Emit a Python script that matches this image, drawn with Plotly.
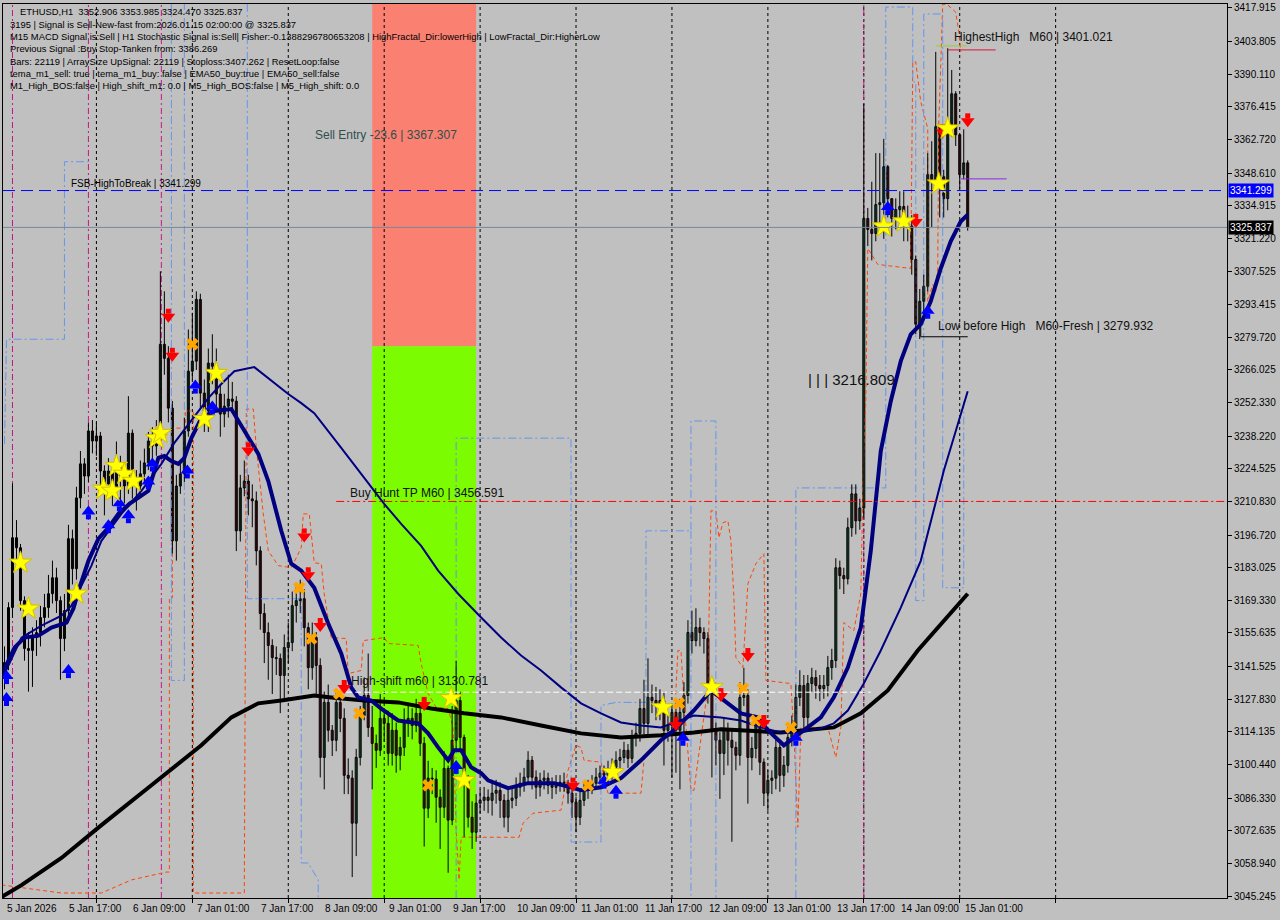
import plotly.graph_objects as go

# ---------------- candle data (H1 bars, index 0 = 5 Jan 2026 00:00) ----------------
closes = [
    3139.0, 3143.2, 3166.3, 3195.6, 3191.4, 3169.2, 3149.1, 3148.3, 3153.7, 3155.8,
    3162.1, 3166.3, 3172.1, 3178.8, 3169.2, 3153.3, 3165.0, 3195.2, 3182.6, 3212.3,
    3226.6, 3221.5, 3240.4, 3236.2, 3238.3, 3223.6, 3218.2, 3223.6, 3215.3, 3224.9,
    3221.5, 3217.3, 3239.5, 3219.4, 3217.3, 3222.4, 3227.0, 3236.2, 3234.1, 3239.1,
    3276.8, 3270.9, 3250.0, 3194.3, 3217.3, 3222.4, 3240.4, 3265.5, 3269.7, 3295.6,
    3256.3, 3248.8, 3268.9, 3267.6, 3255.9, 3247.5, 3250.8, 3253.8, 3252.9, 3198.5,
    3216.5, 3219.4, 3211.9, 3211.1, 3190.1, 3163.8, 3155.8, 3150.4, 3145.3, 3144.9,
    3137.8, 3149.5, 3151.6, 3167.1, 3169.2, 3170.0, 3157.9, 3141.1, 3153.7, 3142.0,
    3103.4, 3126.5, 3114.8, 3110.6, 3126.5, 3119.8, 3095.9, 3094.7, 3075.8, 3103.4,
    3121.0, 3129.4, 3116.0, 3109.3, 3106.4, 3119.8, 3117.7, 3105.1, 3114.8, 3104.3,
    3107.6, 3118.1, 3119.8, 3116.8, 3121.9, 3109.3, 3082.1, 3094.7, 3094.3, 3086.7,
    3082.5, 3098.8, 3077.1, 3110.6, 3127.3, 3111.8, 3093.8, 3078.3, 3072.0, 3084.2,
    3085.4, 3086.7, 3085.4, 3088.4, 3089.6, 3085.4, 3078.3, 3085.4, 3086.3, 3090.9,
    3092.6, 3095.1, 3102.2, 3095.1, 3090.9, 3093.8, 3094.7, 3091.7, 3090.9, 3092.6,
    3093.0, 3092.6, 3088.4, 3084.6, 3078.3, 3085.4, 3089.6, 3090.9, 3092.6, 3095.1,
    3096.8, 3095.9, 3098.0, 3099.3, 3102.2, 3103.4, 3106.4, 3103.0, 3111.8, 3113.5,
    3123.9, 3117.7, 3128.6, 3127.3, 3125.2, 3127.3, 3114.8, 3116.8, 3122.3, 3114.8,
    3122.3, 3129.4, 3155.8, 3152.4, 3157.9, 3155.8, 3153.3, 3132.8, 3114.8, 3110.6,
    3105.1, 3114.8, 3110.6, 3107.6, 3104.3, 3128.6, 3129.4, 3103.4, 3107.2, 3117.7,
    3101.4, 3088.4, 3093.8, 3094.7, 3107.6, 3095.9, 3100.1, 3111.8, 3116.0, 3128.6,
    3133.6, 3120.2, 3134.4, 3136.9, 3133.6, 3132.3, 3133.6, 3141.1, 3144.1, 3183.0,
    3179.7, 3178.4, 3199.8, 3214.0, 3202.7, 3208.1, 3329.6, 3325.0, 3323.3, 3335.4,
    3336.2, 3351.3, 3337.9, 3329.6, 3333.3, 3334.6, 3327.5, 3326.4, 3312.4, 3285.2,
    3294.8, 3301.1, 3348.0, 3345.1, 3368.1, 3347.1, 3337.9, 3368.1, 3381.9, 3364.7,
    3348.0, 3352.906, 3325.837,
]
opens = [
    3136.0, 3139.0, 3143.2, 3166.3, 3195.6, 3191.4, 3169.2, 3149.1, 3148.3, 3153.7,
    3155.8, 3162.1, 3166.3, 3172.1, 3178.8, 3169.2, 3153.3, 3165.0, 3195.2, 3182.6,
    3212.3, 3226.6, 3221.5, 3240.4, 3236.2, 3238.3, 3223.6, 3218.2, 3223.6, 3215.3,
    3224.9, 3221.5, 3217.3, 3239.5, 3219.4, 3217.3, 3222.4, 3227.0, 3236.2, 3234.1,
    3239.1, 3276.8, 3270.9, 3250.0, 3194.3, 3217.3, 3222.4, 3240.4, 3265.5, 3269.7,
    3295.6, 3256.3, 3248.8, 3268.9, 3267.6, 3255.9, 3247.5, 3250.8, 3253.8, 3252.9,
    3198.5, 3216.5, 3219.4, 3211.9, 3211.1, 3190.1, 3163.8, 3155.8, 3150.4, 3145.3,
    3144.9, 3137.8, 3149.5, 3151.6, 3167.1, 3169.2, 3170.0, 3157.9, 3141.1, 3153.7,
    3142.0, 3103.4, 3126.5, 3114.8, 3110.6, 3126.5, 3119.8, 3095.9, 3094.7, 3075.8,
    3103.4, 3121.0, 3129.4, 3116.0, 3109.3, 3106.4, 3119.8, 3117.7, 3105.1, 3114.8,
    3104.3, 3107.6, 3118.1, 3119.8, 3116.8, 3121.9, 3109.3, 3082.1, 3094.7, 3094.3,
    3086.7, 3082.5, 3098.8, 3077.1, 3110.6, 3127.3, 3111.8, 3093.8, 3078.3, 3072.0,
    3084.2, 3085.4, 3086.7, 3085.4, 3088.4, 3089.6, 3085.4, 3078.3, 3085.4, 3086.3,
    3090.9, 3092.6, 3095.1, 3102.2, 3095.1, 3090.9, 3093.8, 3094.7, 3091.7, 3090.9,
    3092.6, 3093.0, 3092.6, 3088.4, 3084.6, 3078.3, 3085.4, 3089.6, 3090.9, 3092.6,
    3095.1, 3096.8, 3095.9, 3098.0, 3099.3, 3102.2, 3103.4, 3106.4, 3103.0, 3111.8,
    3113.5, 3123.9, 3117.7, 3128.6, 3127.3, 3125.2, 3127.3, 3114.8, 3116.8, 3122.3,
    3114.8, 3122.3, 3129.4, 3155.8, 3152.4, 3157.9, 3155.8, 3153.3, 3132.8, 3114.8,
    3110.6, 3105.1, 3114.8, 3110.6, 3107.6, 3104.3, 3128.6, 3129.4, 3103.4, 3107.2,
    3117.7, 3101.4, 3088.4, 3093.8, 3094.7, 3107.6, 3095.9, 3100.1, 3111.8, 3116.0,
    3128.6, 3133.6, 3120.2, 3134.4, 3136.9, 3133.6, 3132.3, 3133.6, 3141.1, 3144.1,
    3183.0, 3179.7, 3178.4, 3199.8, 3214.0, 3202.7, 3208.1, 3329.6, 3325.0, 3323.3,
    3335.4, 3336.2, 3351.3, 3337.9, 3329.6, 3333.3, 3334.6, 3327.5, 3326.4, 3312.4,
    3285.2, 3294.8, 3301.1, 3348.0, 3345.1, 3368.1, 3347.1, 3337.9, 3368.1, 3381.9,
    3364.7, 3348.0, 3352.906,
]
highs = [
    3146, 3150, 3168.5, 3218.5, 3203, 3193, 3171, 3156, 3158, 3161,
    3167, 3172, 3180, 3186, 3183, 3171, 3172, 3201, 3199, 3217,
    3232, 3229, 3244, 3245, 3244, 3240, 3226, 3229, 3225, 3236,
    3230, 3224, 3255, 3241, 3224, 3228, 3233, 3240, 3242, 3245,
    3307.4, 3299, 3276, 3253, 3222, 3228, 3246, 3283, 3290, 3299,
    3298, 3262, 3275, 3281, 3275, 3260, 3256, 3264, 3261, 3255,
    3222, 3228, 3222, 3218, 3215, 3192, 3168, 3160, 3153, 3150,
    3147, 3155, 3160, 3173, 3176, 3178, 3174, 3160, 3160, 3156,
    3145, 3131, 3134, 3117, 3131, 3129, 3124, 3103, 3098, 3107,
    3125, 3137, 3147, 3125, 3113, 3130, 3124, 3123, 3122, 3118,
    3112, 3124, 3126, 3124, 3128, 3124, 3112, 3102, 3099, 3098,
    3090, 3106, 3100, 3125, 3144, 3131, 3113, 3096, 3085, 3088,
    3090, 3091, 3090, 3094, 3094, 3093, 3088, 3090, 3091, 3095,
    3097, 3099, 3106, 3104, 3098, 3097, 3098, 3097, 3095, 3096,
    3096, 3097, 3094, 3091, 3087, 3090, 3093, 3094, 3096, 3099,
    3100, 3100, 3102, 3103, 3106, 3107, 3110, 3109, 3115, 3118,
    3128, 3136, 3145, 3134, 3133, 3132, 3131, 3121, 3126, 3127,
    3128, 3135, 3161, 3165, 3166, 3162, 3158, 3156, 3134, 3118,
    3114, 3120, 3118, 3115, 3110, 3135, 3141, 3132, 3112, 3121,
    3120, 3103, 3098, 3098, 3111, 3109, 3104, 3116, 3121, 3134,
    3140, 3138, 3138, 3141, 3140, 3138, 3138, 3146, 3149, 3187,
    3186, 3183, 3204, 3218, 3218, 3212, 3377.7, 3334, 3345, 3357,
    3357, 3363, 3352, 3338, 3338, 3341, 3341, 3335, 3331, 3314,
    3300, 3306, 3357, 3362, 3399.5, 3368.5, 3350, 3401.021, 3391.9, 3383,
    3365, 3367, 3353.985,
]
lows = [
    3128, 3132, 3140, 3162, 3186, 3165, 3144, 3131, 3133, 3146,
    3150, 3158, 3162, 3168, 3164, 3136, 3148, 3160, 3176, 3178,
    3208, 3214, 3219, 3231, 3230, 3214, 3205, 3214, 3209, 3212,
    3205, 3210, 3214, 3212, 3207, 3213, 3219, 3224, 3228, 3230,
    3236, 3264, 3244, 3189, 3186, 3214, 3219, 3238, 3262, 3266,
    3250, 3240, 3240, 3260, 3250, 3238, 3242, 3246, 3248, 3190,
    3194, 3213, 3205, 3200, 3184, 3157, 3143, 3136, 3130, 3138,
    3122, 3128, 3143, 3148, 3160, 3164, 3150, 3132, 3136, 3130,
    3095, 3090, 3110, 3104, 3106, 3114, 3088, 3088, 3053.2, 3062,
    3100, 3119, 3112, 3090, 3099, 3104, 3110, 3100, 3100, 3097,
    3098, 3104, 3112, 3111, 3114, 3104, 3066, 3078, 3088, 3076,
    3065, 3078, 3055, 3075, 3106, 3106, 3070, 3074, 3065, 3068,
    3080, 3081, 3080, 3079, 3084, 3078, 3074, 3072, 3082, 3083,
    3087, 3089, 3092, 3090, 3086, 3087, 3090, 3088, 3086, 3088,
    3089, 3089, 3084, 3078, 3072, 3075, 3083, 3086, 3088, 3090,
    3092, 3091, 3093, 3094, 3096, 3099, 3101, 3099, 3101, 3108,
    3110, 3113, 3113, 3122, 3119, 3119, 3100, 3110, 3095, 3097,
    3090, 3110, 3126, 3147, 3150, 3150, 3147, 3126, 3095, 3100,
    3086, 3096, 3100, 3068, 3098, 3100, 3125, 3084, 3098, 3103,
    3096, 3083, 3081, 3088, 3090, 3089, 3091, 3097, 3108, 3113,
    3125, 3114, 3116, 3131, 3128, 3127, 3128, 3129, 3136, 3141,
    3174, 3172, 3176, 3196, 3197, 3199, 3204, 3318, 3312, 3320,
    3328, 3321, 3330, 3322, 3325, 3326, 3320, 3320, 3306, 3281,
    3279, 3290, 3299, 3326, 3342, 3330, 3330, 3333, 3364, 3360,
    3342, 3346, 3324.470,
]
bars = list(range(len(closes)))

# ---------------- indicator lines (bar index, price) ----------------
fast_x = [0.25, 3.5, 6, 9.5, 12.75, 15.25, 16.5, 18.25, 19.75, 22, 24.5, 27, 29.5, 32.25, 34.5, 37,
          39.5, 41, 42.75, 44.5, 46, 47.75, 50.25, 53.5, 57.75, 61, 64.5, 67, 70.25, 72.75, 75.25,
          78.5, 82, 85.25, 87.75, 89.5, 92.75, 95.25, 99.5, 104.5, 107, 109.5, 112, 113.5, 115.25,
          117.75, 120.25, 122, 127, 132, 138.5, 142.75, 145.25, 150.25, 155.25, 160.25, 165.25,
          168.5, 173.5, 177.75, 182, 185.25, 189.5, 192, 196, 198.5, 202, 205.25, 208.5, 212,
          215.25, 217.75, 220.25, 222.75, 225.25, 227.75, 230.25, 232.75, 235.25, 237.75, 240.25, 242]
fast_y = [3137.8, 3149.5, 3153.7, 3154.5, 3157.9, 3159.6, 3160.0, 3165.9, 3174.6, 3185.9, 3195.2,
          3199.8, 3205.6, 3209.8, 3212.3, 3215.3, 3229.1, 3229.9, 3227.8, 3226.6, 3229.1, 3237.4,
          3245.8, 3248.8, 3249.6, 3240.4, 3230.8, 3219.4, 3198.5, 3184.7, 3181.8, 3174.6, 3159.6,
          3147.0, 3132.8, 3128.6, 3127.3, 3123.9, 3118.9, 3117.7, 3113.5, 3107.6, 3102.2, 3106.4,
          3106.4, 3099.3, 3096.8, 3093.8, 3090.5, 3092.6, 3092.6, 3090.9, 3089.6, 3090.9, 3094.7,
          3102.2, 3110.6, 3114.8, 3123.1, 3131.5, 3126.1, 3121.9, 3120.2, 3114.8, 3108.5, 3111.8,
          3116.0, 3120.2, 3128.6, 3141.1, 3157.9, 3190.1, 3232.0, 3252.9, 3269.7, 3281.0, 3285.2,
          3294.8, 3308.6, 3320.0, 3328.3, 3331.2]
slow_x = [0.25, 3.5, 5.25, 10.25, 15.25, 17.75, 20.25, 22.75, 25.25, 30.25, 35.25, 40.25, 43.5,
          47.75, 52, 55.25, 58.5, 63.5, 67, 72, 75.25, 78.5, 85.25, 91, 96, 100.25, 105.25, 109.5,
          114.5, 120.25, 125.25, 130.25, 135.25, 140.25, 145.25, 150.25, 155.25, 160.25, 165.25,
          173.5, 180.25, 185.25, 190.25, 195.25, 200.25, 205.25, 208.5, 212, 216, 220.25, 225.25,
          230.25, 236, 242]
slow_y = [3135.7, 3147.4, 3153.7, 3158.7, 3162.9, 3167.1, 3175.5, 3183.9, 3194.3, 3205.6, 3215.3,
          3226.6, 3235.4, 3244.6, 3254.2, 3260.1, 3265.5, 3267.2, 3262.6, 3255.9, 3252.1, 3247.9,
          3233.3, 3220.7, 3209.8, 3201.4, 3192.2, 3181.8, 3172.1, 3162.1, 3153.7, 3146.2, 3139.9,
          3132.8, 3126.1, 3121.9, 3118.1, 3116.8, 3116.0, 3121.0, 3120.2, 3118.9, 3116.0, 3113.9,
          3113.9, 3115.6, 3117.7, 3123.1, 3134.4, 3148.3, 3166.3, 3185.9, 3223.6, 3257.1]
black_x = [0.25, 5.25, 15.25, 25.25, 37.75, 50.25, 57.75, 64.5, 70.25, 78.5, 82.75, 91, 99.5,
           107.75, 116, 125.25, 135.25, 145.25, 155.25, 165.25, 173.5, 180.25, 195.25, 208.5,
           215.25, 222, 229.5, 236, 242]
black_y = [3044.8, 3049.8, 3061.2, 3075.0, 3091.7, 3108.5, 3120.2, 3126.1, 3127.3, 3129.4, 3128.6,
           3127.3, 3126.5, 3123.9, 3121.9, 3120.2, 3116.8, 3113.5, 3111.8, 3112.7, 3113.9, 3115.2,
           3113.9, 3116.0, 3121.9, 3131.5, 3148.3, 3160.8, 3172.1]

orange_x = [0.25, 15.25, 25.25, 32.75, 41.5, 42.25, 42.25, 43, 43, 46.25, 46.25, 48.25, 48.25, 61,
            61.5, 63.25, 64, 65.75, 67, 69.5, 72.75, 75.25, 75.75, 77.25, 78.5, 80.25, 81, 82,
            82.75, 86.5, 87, 90.25, 90.75, 96, 97, 104.5, 105.25, 107, 109, 112, 113.25, 114,
            114.75, 115.25, 129.75, 130.75, 133.25, 140.25, 142, 144, 145.25, 146, 150.25, 151,
            152, 160.25, 161, 162, 168.5, 169.5, 170.25, 171, 172.75, 173.5, 177, 177.25, 177.75,
            179, 179.75, 180.75, 182, 182.75, 183.5, 184, 185.75, 187, 189, 191, 191.5, 197.75,
            198.5, 199.5, 200.25, 207, 209, 210.25, 211, 213.5, 215.25, 216, 216.5, 217, 219.5,
            227.75, 228.25, 229, 230.25, 232, 232, 233.25, 234, 234.5, 234.75, 235.75, 237, 239,
            239.75, 240.25]
orange_y = [3049.9, 3046.5, 3046.5, 3052.0, 3055.3, 3055.3, 3170.4, 3170.4, 3241.6, 3241.6, 3248.8,
            3248.8, 3046.5, 3046.5, 3249.6, 3249.6, 3233.3, 3205.6, 3190.1, 3183.9, 3183.0, 3191.4,
            3205.6, 3205.6, 3185.1, 3184.7, 3172.1, 3160.8, 3153.7, 3153.3, 3138.6, 3139.9, 3152.4,
            3153.7, 3151.2, 3150.4, 3142.8, 3130.2, 3124.4, 3123.9, 3116.0, 3072.9, 3052.0, 3069.9,
            3069.9, 3075.8, 3080.0, 3081.3, 3098.0, 3108.5, 3107.6, 3102.2, 3101.4, 3095.1, 3088.4,
            3088.4, 3102.2, 3105.1, 3116.0, 3148.3, 3148.3, 3127.3, 3089.6, 3089.6, 3132.8, 3160.0,
            3206.9, 3206.9, 3195.6, 3201.9, 3202.7, 3194.3, 3170.4, 3145.3, 3141.1, 3176.3, 3184.7,
            3188.9, 3135.7, 3134.4, 3113.5, 3074.1, 3116.0, 3116.0, 3103.4, 3116.0, 3160.0, 3156.6,
            3172.1, 3232.0, 3252.9, 3317.0, 3310.3, 3308.6, 3395.3, 3395.3, 3378.6, 3367.3, 3294.8,
            3301.9, 3299.0, 3308.6, 3368.9, 3419.6, 3419.2, 3416.2, 3407.9, 3399.5]
blue_x = [1, 1.5, 16, 16, 22.25, None,
          42.75, 42.75, 46, 46, None,
          61.75, 61.75, 75.25, 75.25, 77, 79.5, 79.5, None,
          114, 114, 142.75, 142.75, 150.25, 150.25, 154, 161.5, 161.5, 172.75, 172.75, 179, 179, None,
          172.75, 172.75, None,
          199, 199, 221.5, 221.5, 228.25, 228.25, 229, 229, 231, 231, 235.75, 235.75, 241, 241, 242]
blue_y = [3234.9, 3278.9, 3278.9, 3353.4, 3353.4, None,
          3419.6, 3135.7, 3135.7, 3419.6, None,
          3419.6, 3170.0, 3170.0, 3059.1, 3059.1, 3052.0, 3044.4, None,
          3044.4, 3237.4, 3237.4, 3067.9, 3067.9, 3125.2, 3126.5, 3126.5, 3198.5, 3198.5, 3244.6,
          3244.6, 3044.4, None,
          3198.5, 3044.4, None,
          3044.4, 3216.5, 3216.5, 3418.3, 3418.3, 3386.9, 3386.9, 3169.2, 3169.2, 3415.4, 3415.4,
          3174.6, 3174.6, 3252.9, 3252.9]

# ---------------- signal markers ----------------
star_x = [5, 7, 19, 25.75, 28, 29, 31, 33.25, 39, 40, 51, 54, 112.75, 116, 153.25, 165.75, 178,
          221, 226, 234.75, 237]
star_y = [3185.1, 3165.8, 3172.1, 3216.1, 3215.3, 3225.7, 3222.4, 3219.4, 3237.4, 3239.5, 3245.4,
          3264.7, 3128.2, 3093.8, 3097.2, 3124.4, 3132.8, 3326.2, 3328.3, 3344.2, 3367.3]
down_x = [42, 43, 62, 76, 77, 80, 86, 106, 143.25, 169, 180.25, 187, 191, 229, 235.75, 242]
down_y = [3289.4, 3273.0, 3233.3, 3197.2, 3180.9, 3159.6, 3133.6, 3126.5, 3092.6, 3118.1, 3130.2,
          3147.0, 3118.9, 3329.2, 3366.8, 3371.4]
up_x = [1.5, 1.5, 17, 22, 27, 29.75, 32, 37, 38, 46.75, 48.75, 53, 114, 151, 154, 170.75, 199,
        222, 232]
up_y = [3136.5, 3127.3, 3139.0, 3205.6, 3199.8, 3209.0, 3204.0, 3218.2, 3225.7, 3222.8, 3258.4,
        3249.6, 3098.8, 3092.6, 3088.4, 3110.6, 3110.6, 3333.3, 3289.8]
cross_x = [48, 74.75, 77.75, 84.75, 89.75, 107, 147, 169.75, 185.75, 189, 197.75]
cross_y = [3276.8, 3174.6, 3153.3, 3130.2, 3121.9, 3091.7, 3091.7, 3126.1, 3132.3, 3118.9, 3116.0]

# ---------------- levels ----------------
fsb_high = 3341.299
bid_price = 3325.837
buy_hunt_tp = 3210.830
high_shift = 3130.781
highest_high = 3401.021
low_before_high = 3279.932
zone_split = 3276.0
zone_bars = (93, 119)
purple_level = 3346.2

# ---------------- axis labels ----------------
y_ticks = [3417.915, 3403.805, 3390.110, 3376.415, 3362.720, 3348.610, 3334.915, 3321.220,
           3307.525, 3293.415, 3279.720, 3266.025, 3252.330, 3238.220, 3224.525, 3210.830,
           3196.720, 3183.025, 3169.330, 3155.635, 3141.525, 3127.830, 3114.135, 3100.440,
           3086.330, 3072.635, 3058.940, 3045.245]
x_label_bars = [0, 17, 33, 49, 65, 81, 97, 113, 129, 145, 161, 177, 193, 209, 225, 241]
x_labels = ["5 Jan 2026", "5 Jan 17:00", "6 Jan 09:00", "7 Jan 01:00", "7 Jan 17:00",
            "8 Jan 09:00", "9 Jan 01:00", "9 Jan 17:00", "10 Jan 09:00", "11 Jan 01:00",
            "11 Jan 17:00", "12 Jan 09:00", "13 Jan 01:00", "13 Jan 17:00", "14 Jan 09:00",
            "15 Jan 01:00"]
day_bars = [24, 48, 72, 96, 120, 144, 168, 192, 216, 240, 264]
marker_bars = [3, 22, 40.25, 216]

info_lines = [
    "ETHUSD,H1  3352.906 3353.985 3324.470 3325.837",
    "3195 | Signal is Sell-New-fast from:2026.01.15 02:00:00 @ 3325.837",
    "M15 MACD Signal is:Sell | H1 Stochastic Signal is:Sell| Fisher:-0.1388296780653208 | HighFractal_Dir:lowerHigh | LowFractal_Dir:HigherLow",
    "Previous Signal :Buy Stop-Tanken from: 3386.269",
    "Bars: 22119 | ArraySize UpSignal: 22119 | Stoploss:3407.262 | ResetLoop:false",
    "tema_m1_sell: true | tema_m1_buy: false | EMA50_buy:true | EMA50_sell:false",
    "M1_High_BOS:false | High_shift_m1: 0.0 | M5_High_BOS:false | M5_High_shift: 0.0",
]

# ---------------- figure geometry ----------------
W, H = 1280, 920
ML, MR, MT, MB = 2, 53, 2, 22
PW, PH = W - ML - MR, H - MT - MB
XR = [0.625, 306.875]
YR = [3044.41, 3419.59]
PPU = (YR[1] - YR[0]) / PH          # price units per pixel
FONT = "Liberation Sans, Arial, sans-serif"
GREEN, RED = "#3CB371", "#C0283C"


def pxx(px):
    return (px - ML) / PW


def pxy(py):
    return 1 - (py - MT) / PH


fig = go.Figure()

fig.add_trace(go.Scatter(x=orange_x, y=orange_y, mode="lines", hoverinfo="skip",
                         line=dict(color="#FF4500", width=1, dash="4px,3px")))
fig.add_trace(go.Scatter(x=blue_x, y=blue_y, mode="lines", hoverinfo="skip", connectgaps=False,
                         line=dict(color="#6495ED", width=1, dash="8px,3px,2px,3px")))

# candles: wicks + bodies
wick_x, wick_y = [], []
for i, hi, lo in zip(bars, highs, lows):
    wick_x += [i, i, None]
    wick_y += [lo, hi, None]
fig.add_trace(go.Scatter(x=wick_x, y=wick_y, mode="lines", hoverinfo="skip",
                         line=dict(color="#000000", width=1)))
body_base = [min(o, c) for o, c in zip(opens, closes)]
body_len = [max(abs(c - o), 0.35) for o, c in zip(opens, closes)]
body_col = [GREEN if c >= o else RED for o, c in zip(opens, closes)]
fig.add_trace(go.Bar(x=bars, y=body_len, base=body_base, width=0.5, hoverinfo="skip",
                     marker=dict(color=body_col, line=dict(color="#000000", width=1))))

fig.add_trace(go.Scatter(x=black_x, y=black_y, mode="lines", line=dict(color="#000000", width=4),
                         hoverinfo="skip"))
fig.add_trace(go.Scatter(x=slow_x, y=slow_y, mode="lines", line=dict(color="#000080", width=2),
                         hoverinfo="skip"))
fig.add_trace(go.Scatter(x=fast_x, y=fast_y, mode="lines", line=dict(color="#000080", width=4),
                         hoverinfo="skip"))

fig.add_trace(go.Scatter(x=cross_x, y=cross_y, mode="markers", hoverinfo="skip",
                         marker=dict(symbol="x", size=11, color="#FFA500", line=dict(width=0))))

# chunky arrows = stem + head
fig.add_trace(go.Scatter(x=up_x, y=[v - 3 * PPU for v in up_y], mode="markers", hoverinfo="skip",
                         marker=dict(symbol="square", size=5, color="#0000FF", line=dict(width=0))))
fig.add_trace(go.Scatter(x=up_x, y=[v + 2.5 * PPU for v in up_y], mode="markers", hoverinfo="skip",
                         marker=dict(symbol="triangle-up", size=12, color="#0000FF",
                                     line=dict(width=0))))
fig.add_trace(go.Scatter(x=down_x, y=[v + 3 * PPU for v in down_y], mode="markers",
                         hoverinfo="skip",
                         marker=dict(symbol="square", size=5, color="#FF0000", line=dict(width=0))))
fig.add_trace(go.Scatter(x=down_x, y=[v - 2.5 * PPU for v in down_y], mode="markers",
                         hoverinfo="skip",
                         marker=dict(symbol="triangle-down", size=12, color="#FF0000",
                                     line=dict(width=0))))
fig.add_trace(go.Scatter(x=star_x, y=star_y, mode="markers", hoverinfo="skip",
                         marker=dict(symbol="star", size=17, color="#FFFF00",
                                     line=dict(color="#D4C000", width=1))))

shapes = []
shapes.append(dict(type="rect", xref="x", yref="y", x0=zone_bars[0], x1=zone_bars[1],
                   y0=zone_split, y1=YR[1], fillcolor="#FA8072", line=dict(width=0), layer="below"))
shapes.append(dict(type="rect", xref="x", yref="y", x0=zone_bars[0], x1=zone_bars[1],
                   y0=YR[0], y1=zone_split, fillcolor="#7CFC00", line=dict(width=0), layer="below"))
for d in day_bars:
    shapes.append(dict(type="line", xref="x", yref="y", x0=d, x1=d, y0=YR[0], y1=YR[1],
                       line=dict(color="#000000", width=1, dash="3px,3px"), layer="below"))
for d in marker_bars:
    shapes.append(dict(type="line", xref="x", yref="y", x0=d, x1=d, y0=YR[0], y1=YR[1],
                       line=dict(color="#C71585", width=1, dash="6px,3px,2px,3px"), layer="below"))
shapes.append(dict(type="line", xref="x", yref="y", x0=XR[0], x1=XR[1], y0=fsb_high, y1=fsb_high,
                   line=dict(color="#0000FF", width=1, dash="12px,6px")))
shapes.append(dict(type="line", xref="x", yref="y", x0=XR[0], x1=XR[1], y0=bid_price, y1=bid_price,
                   line=dict(color="#778899", width=1)))
shapes.append(dict(type="line", xref="x", yref="y", x0=84, x1=XR[1], y0=buy_hunt_tp, y1=buy_hunt_tp,
                   line=dict(color="#FF0000", width=1, dash="8px,3px,2px,3px")))
shapes.append(dict(type="line", xref="x", yref="y", x0=86.5, x1=217.75, y0=high_shift, y1=high_shift,
                   line=dict(color="#FFFFFF", width=1, dash="6px,3px")))
shapes.append(dict(type="line", xref="x", yref="y", x0=234, x1=241.75, y0=highest_high + 1.0,
                   y1=highest_high + 1.0, line=dict(color="#9ACD32", width=1)))
shapes.append(dict(type="line", xref="x", yref="y", x0=237, x1=249, y0=highest_high - 0.7,
                   y1=highest_high - 0.7, line=dict(color="#DC143C", width=1)))
shapes.append(dict(type="line", xref="x", yref="y", x0=240.25, x1=251.75, y0=purple_level,
                   y1=purple_level, line=dict(color="#8A2BE2", width=1)))
shapes.append(dict(type="line", xref="x", yref="y", x0=230.25, x1=242, y0=low_before_high,
                   y1=low_before_high, line=dict(color="#000000", width=1)))
shapes.append(dict(type="line", xref="x", yref="y", x0=230.25, x1=230.25, y0=low_before_high,
                   y1=low_before_high + 4.2, line=dict(color="#000000", width=1)))

annotations = []
for k, line in enumerate(info_lines):
    annotations.append(dict(xref="paper", yref="paper", x=pxx(17 if k == 0 else 7),
                            y=pxy(10 + 12.3 * k), xanchor="left", yanchor="middle",
                            showarrow=False, text=line,
                            font=dict(family=FONT, size=9.4, color="#000000")))

level_texts = [
    ("Sell Entry -23.6 | 3367.307", 78.25, 3364.7, 12, "#2F4F4F"),
    ("FSB-HighToBreak | 3341.299", 17.25, 3344.2, 10, "#000000"),
    ("Buy Hunt TP M60 | 3456.591", 87.0, 3214.4, 12, "#111111"),
    ("High-shift m60 | 3130.781", 87.25, 3135.3, 12, "#111111"),
    ("HighestHigh   M60 | 3401.021", 238.0, 3405.8, 12, "#111111"),
    ("Low before High   M60-Fresh | 3279.932", 234.0, 3284.3, 12, "#111111"),
    ("| | | 3216.809", 201.5, 3262.2, 15, "#111111"),
]
for txt, xb, yp, sz, col in level_texts:
    annotations.append(dict(xref="x", yref="y", x=xb, y=yp, xanchor="left", yanchor="middle",
                            showarrow=False, text=txt.replace("   ", "&nbsp;&nbsp;&nbsp;"),
                            font=dict(family=FONT, size=sz, color=col)))

for b, lab in zip(x_label_bars, x_labels):
    annotations.append(dict(xref="x", yref="paper", x=(1.0 if b == 0 else b - 0.25), y=pxy(909),
                            xanchor="left", yanchor="middle", showarrow=False, text=lab,
                            font=dict(family=FONT, size=10, color="#000000")))

for price, bg in [(fsb_high, "#0000FF"), (bid_price, "#000000")]:
    annotations.append(dict(xref="paper", yref="y", x=1, y=price, xanchor="left",
                            yanchor="middle", xshift=1, showarrow=False, text=f"{price:.3f}",
                            bgcolor=bg, borderpad=1,
                            font=dict(family=FONT, size=10, color="#FFFFFF")))

fig.update_layout(
    width=W, height=H,
    margin=dict(l=ML, r=MR, t=MT, b=MB),
    paper_bgcolor="#C0C0C0", plot_bgcolor="#C0C0C0",
    showlegend=False, hovermode=False, barmode="overlay",
    shapes=shapes, annotations=annotations,
    xaxis=dict(range=XR, showgrid=False, zeroline=False,
               tickmode="array", tickvals=day_bars, showticklabels=False, ticks="outside",
               ticklen=4, tickcolor="#000000", showline=True, linecolor="#000000",
               linewidth=1, mirror=True),
    yaxis=dict(range=YR, side="right", showgrid=False, zeroline=False, tickmode="array",
               tickvals=y_ticks, ticktext=[f"{v:.3f}" for v in y_ticks], ticks="outside",
               ticklen=4, tickcolor="#000000", showline=True, linecolor="#000000",
               linewidth=1, mirror=True,
               tickfont=dict(family=FONT, size=10, color="#000000")),
)

fig.write_html("out.html", config={"displayModeBar": False},
               post_script="document.body.style.margin='0px';document.body.style.overflow='hidden';")
